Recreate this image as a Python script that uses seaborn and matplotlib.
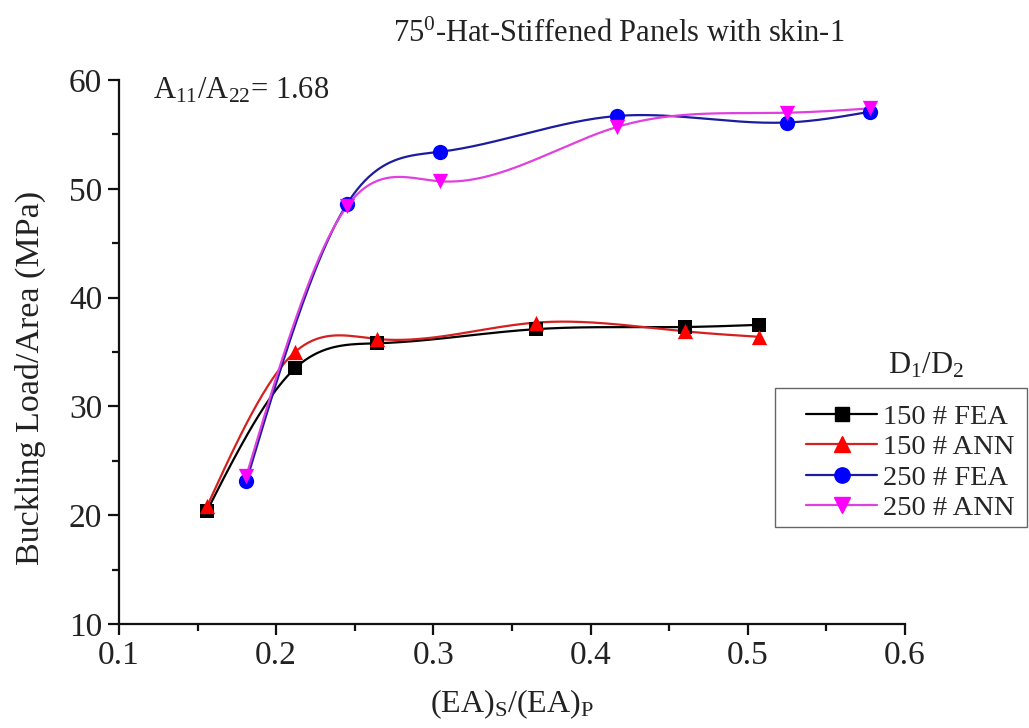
import numpy as np
import pandas as pd
import seaborn as sns
import matplotlib
matplotlib.use("Agg")
import matplotlib.pyplot as plt
from matplotlib.lines import Line2D
from matplotlib.patches import Rectangle
from matplotlib.ticker import MultipleLocator

# ---- data ----
x_150 = [0.156, 0.212, 0.264, 0.365, 0.460, 0.507]
fea_150 = [20.4, 33.5, 35.8, 37.1, 37.3, 37.5]
ann_150 = [20.8, 35.0, 36.2, 37.7, 36.9, 36.4]

x_250 = [0.181, 0.245, 0.304, 0.417, 0.525, 0.578]
fea_250 = [23.1, 48.6, 53.4, 56.7, 56.1, 57.1]
ann_250 = [23.6, 48.4, 50.7, 55.7, 57.0, 57.4]

series_names = ["150 # FEA", "150 # ANN", "250 # FEA", "250 # ANN"]
title_text = r"75$^{0}$-Hat-Stiffened Panels with skin-1"
ratio_text = r"A$_{11}$/A$_{22}$= 1.68"

sns.set_style("ticks")
plt.rcParams["font.family"] = ["Liberation Serif", "DejaVu Serif"]
plt.rcParams["mathtext.fontset"] = "custom"
plt.rcParams["mathtext.rm"] = "Liberation Serif"
plt.rcParams["mathtext.it"] = "Liberation Serif"
plt.rcParams["mathtext.bf"] = "Liberation Serif"


def natural_spline(x, y, n=300):
    x = np.asarray(x, float)
    y = np.asarray(y, float)
    k = len(x)
    h = np.diff(x)
    A = np.zeros((k, k))
    b = np.zeros(k)
    A[0, 0] = 1
    A[-1, -1] = 1
    for i in range(1, k - 1):
        A[i, i - 1] = h[i - 1]
        A[i, i] = 2 * (h[i - 1] + h[i])
        A[i, i + 1] = h[i]
        b[i] = 6 * ((y[i + 1] - y[i]) / h[i] - (y[i] - y[i - 1]) / h[i - 1])
    M = np.linalg.solve(A, b)
    xs = np.linspace(x[0], x[-1], n)
    idx = np.clip(np.searchsorted(x, xs) - 1, 0, k - 2)
    x0, x1 = x[idx], x[idx + 1]
    hh = x1 - x0
    ys = (M[idx] * (x1 - xs) ** 3 / (6 * hh) + M[idx + 1] * (xs - x0) ** 3 / (6 * hh)
          + (y[idx] / hh - M[idx] * hh / 6) * (x1 - xs)
          + (y[idx + 1] / hh - M[idx + 1] * hh / 6) * (xs - x0))
    return xs, ys


W, H = 1029, 728
fig = plt.figure(figsize=(W / 100, H / 100), dpi=100)
ax = fig.add_axes([0.1156, 0.1429, 0.7639, 0.7471])

styles = [
    dict(xv=x_150, yv=fea_150, line="#000000", face="#000000", marker="s", ms=10),
    dict(xv=x_150, yv=ann_150, line="#d42020", face="#ff0000", marker="^", ms=11),
    dict(xv=x_250, yv=fea_250, line="#1c1c9e", face="#0000ff", marker="o", ms=11),
    dict(xv=x_250, yv=ann_250, line="#e040e0", face="#ff00ff", marker="v", ms=11),
]

handles = []
for name, st in zip(series_names, styles):
    xs, ys = natural_spline(st["xv"], st["yv"])
    curve = pd.DataFrame({"x": xs, "y": ys})
    sns.lineplot(data=curve, x="x", y="y", ax=ax, color=st["line"], linewidth=1.6,
                 estimator=None, sort=False)
    pts = pd.DataFrame({"x": st["xv"], "y": st["yv"]})
    sns.scatterplot(data=pts, x="x", y="y", ax=ax, marker=st["marker"], s=st["ms"] ** 2,
                    color=st["face"], edgecolor=st["face"], linewidth=0, zorder=5)
    handles.append(Line2D([0], [0], color=st["line"], linewidth=1.6, marker=st["marker"],
                          markersize=st["ms"], markerfacecolor=st["face"],
                          markeredgecolor=st["face"]))

ax.set_xlim(0.1, 0.6)
ax.set_ylim(10, 60)
ax.xaxis.set_major_locator(MultipleLocator(0.1))
ax.xaxis.set_minor_locator(MultipleLocator(0.05))
ax.yaxis.set_major_locator(MultipleLocator(10))
ax.yaxis.set_minor_locator(MultipleLocator(5))
ax.set_xticks([0.1, 0.2, 0.3, 0.4, 0.5, 0.6])
ax.set_xticklabels(["0.1", "0.2", "0.3", "0.4", "0.5", "0.6"])
ax.tick_params(axis="both", which="major", direction="out", length=8, width=1.6,
               labelsize=24, color="#111111", labelcolor="#222222", pad=4)
ax.tick_params(axis="both", which="minor", direction="out", length=5, width=1.6,
               color="#111111")
for s in ["top", "right"]:
    ax.spines[s].set_visible(False)
for s in ["left", "bottom"]:
    ax.spines[s].set_linewidth(1.6)
    ax.spines[s].set_color("#111111")

ax.set_xlabel(r"(EA)$_{\rm S}$/(EA)$_{\rm P}$", fontsize=23, color="#222222", labelpad=12)
ax.set_ylabel("")
fig.text(30 / W, 1 - 378 / H, "Buckling Load/Area (MPa)", rotation=90, ha="center",
         va="center", fontsize=24.5, color="#222222")

fig.text(0.6016, 0.953, title_text, ha="center", va="center", fontsize=22, color="#222222")
fig.text(0.149, 0.876, ratio_text, ha="left", va="center", fontsize=22, color="#222222")

fig.text(926 / W, 1 - 366 / H, r"D$_{1}$/D$_{2}$", ha="center", va="center", fontsize=22,
         color="#222222")

# legend frame
fig.add_artist(Rectangle((775 / W, 1 - 527 / H), (1027 - 775) / W, (527 - 388) / H,
                         transform=fig.transFigure, facecolor="white",
                         edgecolor="#666666", linewidth=1.0, zorder=3))
leg = fig.legend(handles, series_names, loc="upper left",
                 bbox_to_anchor=(806 / W, 1 - 404 / H), frameon=False, fontsize=20.5,
                 handlelength=2.5, handletextpad=0.2, labelspacing=0.16,
                 borderpad=0.0, borderaxespad=0)
leg.set_zorder(4)

fig.savefig("out.png", dpi=100)
